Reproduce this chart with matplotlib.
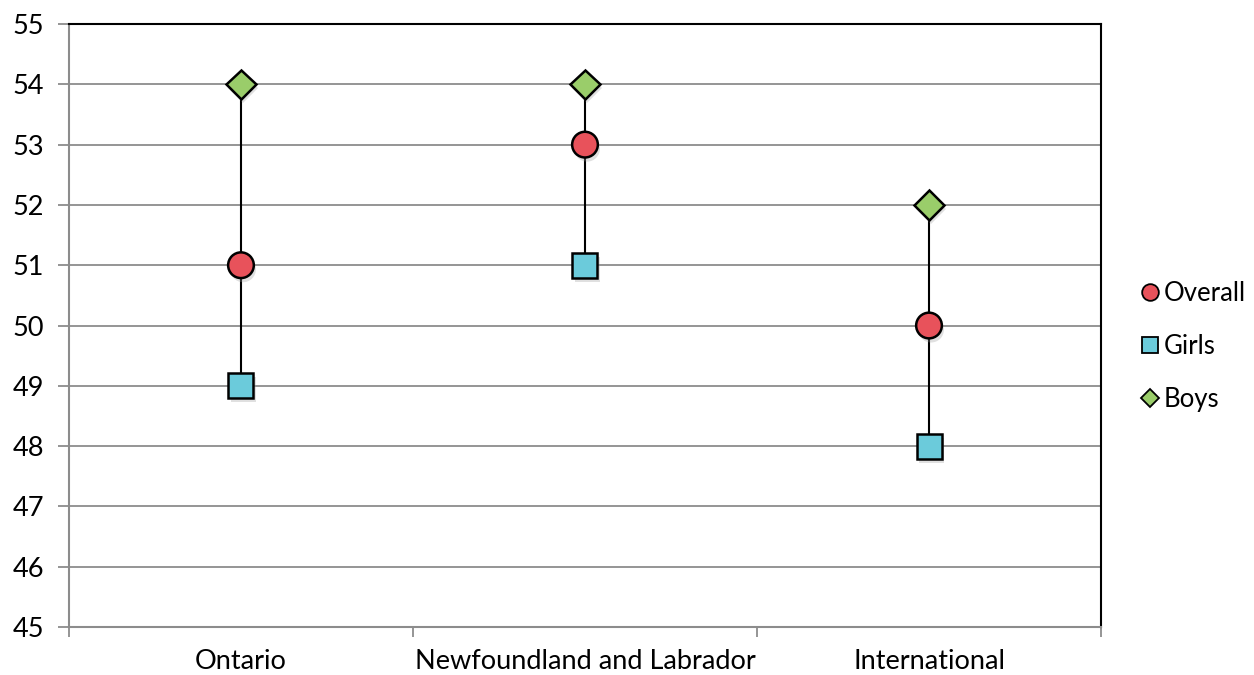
import matplotlib.pyplot as plt
import matplotlib.patheffects as pe
from matplotlib.lines import Line2D

plt.rcParams['font.family'] = ['Lato', 'DejaVu Sans']

categories = ['Ontario', 'Newfoundland and Labrador', 'International']
overall = [51, 53, 50]
girls = [49, 51, 48]
boys = [54, 54, 52]

red = '#E8525B'
cyan = '#6BCBDB'
green = '#9ACD6A'

fig = plt.figure(figsize=(12.54, 6.75), dpi=100)
ax = fig.add_axes([0.055, 0.0711, 0.823, 0.8933])

x = list(range(len(categories)))
lows = [min(a, b, c) for a, b, c in zip(overall, girls, boys)]
highs = [max(a, b, c) for a, b, c in zip(overall, girls, boys)]

# high-low lines
ax.vlines(x, lows, highs, color='black', lw=1.5, zorder=2)

shadow = [pe.SimplePatchShadow(offset=(1.5, -3), shadow_rgbFace='#999999', alpha=0.3), pe.Normal()]
ax.plot(x, boys, ls='none', marker='D', ms=15, mfc=green, mec='black', mew=1.8,
        zorder=3, path_effects=shadow)
ax.plot(x, girls, ls='none', marker='s', ms=18, mfc=cyan, mec='black', mew=1.8,
        zorder=3, path_effects=shadow)
ax.plot(x, overall, ls='none', marker='o', ms=18.5, mfc=red, mec='black', mew=1.8,
        zorder=3, path_effects=shadow)

ax.set_xlim(-0.5, len(categories) - 0.5)
ax.set_ylim(45, 55)
ax.set_yticks(range(45, 56))
ax.yaxis.grid(True, color='#8c8c8c', lw=1.3)
ax.set_axisbelow(True)

ax.set_xticks(x)
ax.set_xticklabels(categories, fontsize=19.5)
ax.set_xticks([i - 0.5 for i in range(len(categories) + 1)], minor=True)
ax.tick_params(axis='x', which='major', length=0, pad=16)
ax.tick_params(axis='x', which='minor', length=7, width=1.3, color='#8c8c8c')
ax.tick_params(axis='y', length=8, width=1.3, color='#8c8c8c', labelsize=19.5, pad=10)

for side in ('left', 'bottom'):
    ax.spines[side].set_color('#8c8c8c')
    ax.spines[side].set_linewidth(1.5)
for side in ('top', 'right'):
    ax.spines[side].set_color('black')
    ax.spines[side].set_linewidth(1.5)

handles = [
    Line2D([], [], ls='none', marker='o', ms=12, mfc=red, mec='black', mew=1.3),
    Line2D([], [], ls='none', marker='s', ms=12, mfc=cyan, mec='black', mew=1.3),
    Line2D([], [], ls='none', marker='D', ms=9, mfc=green, mec='black', mew=1.3),
]
fig.legend(handles, ['Overall', 'Girls', 'Boys'], loc='center left',
           bbox_to_anchor=(0.9025, 0.487), frameon=False, fontsize=18.5,
           handlelength=0.6, handletextpad=0.25, labelspacing=1.1, borderaxespad=0)

fig.savefig('out.png', dpi=100)
